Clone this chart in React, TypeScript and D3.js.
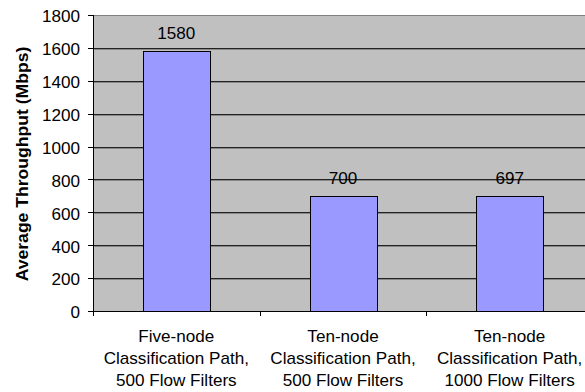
import React from "react";
import * as d3 from "d3";

const categories = [
  ["Five-node", "Classification Path,", "500 Flow Filters"],
  ["Ten-node", "Classification Path,", "500 Flow Filters"],
  ["Ten-node", "Classification Path,", "1000 Flow Filters"],
];
const values = [1580, 700, 697];
const yTicks = [0, 200, 400, 600, 800, 1000, 1200, 1400, 1600, 1800];
const yTitle = "Average Throughput (Mbps)";

const SX = 1.07;
const FS = 16;

function T({ x, y, anchor = "middle", children, bold = false, rotate = 0, sx = SX, size = FS }: any) {
  return (
    <text
      transform={`translate(${x},${y}) rotate(${rotate}) scale(${sx},1)`}
      textAnchor={anchor}
      fontSize={size}
      fontWeight={bold ? "bold" : "normal"}
      fill="#000"
    >
      {children}
    </text>
  );
}

export default function App() {
  const W = 585, H = 392;
  const left = 93, right = 593, top = 15, bottom = 311;
  const x = d3.scaleBand<number>().domain(d3.range(values.length)).range([left, right]).paddingInner(0).paddingOuter(0);
  const y = d3.scaleLinear().domain([0, 1800]).range([bottom, top]);
  const bw = x.bandwidth() * 0.4;
  const font = "'Liberation Sans', Arial, sans-serif";
  return (
    <svg width={W} height={H} style={{ position: "absolute", left: 0, top: 0, background: "#fff" }} fontFamily={font}>
      <rect x={left} y={top} width={right - left} height={bottom - top} fill="#C0C0C0" />
      <line x1={left} x2={right} y1={top + 0.5} y2={top + 0.5} stroke="#808080" />
      {yTicks.filter(t => t > 0 && t < 1800).map(t => (
        <g key={t}>
          <line x1={left} x2={right} y1={Math.round(y(t)) + 0.5} y2={Math.round(y(t)) + 0.5} stroke="#222" />
          <line x1={left} x2={right} y1={Math.round(y(t)) + 1.5} y2={Math.round(y(t)) + 1.5} stroke="#888" />
        </g>
      ))}
      {values.map((v, i) => {
        const cx = x(i)! + x.bandwidth() / 2;
        return (
          <g key={i}>
            <rect x={Math.round(cx - bw / 2) + 0.5} y={Math.round(y(v)) + 0.5} width={Math.round(bw)} height={Math.round(bottom - y(v))} fill="#9999FF" stroke="#000" />
            <T x={cx} y={y(v) - 12}>{v}</T>
          </g>
        );
      })}
      <line x1={left + 0.5} x2={left + 0.5} y1={top} y2={bottom + 5} stroke="#000" />
      <line x1={left} x2={right} y1={bottom + 0.5} y2={bottom + 0.5} stroke="#000" />
      {yTicks.map(t => (
        <g key={t}>
          <line x1={left - 5} x2={left} y1={Math.round(y(t)) + 0.5} y2={Math.round(y(t)) + 0.5} stroke="#000" />
          <T x={left - 13} y={y(t) + 7.3} anchor="end">{t}</T>
        </g>
      ))}
      {values.map((_, i) => i > 0 ? (
        <line key={i} x1={Math.round(x(i)!) + 0.5} x2={Math.round(x(i)!) + 0.5} y1={bottom} y2={bottom + 5} stroke="#000" />
      ) : null)}
      {categories.map((lines, i) => {
        const cx = x(i)! + x.bandwidth() / 2;
        return (
          <g key={i}>
            {lines.map((l, j) => (
              <T key={j} x={cx} y={342 + j * 22}>{l}</T>
            ))}
          </g>
        );
      })}
      <T x={27.5} y={(top + bottom) / 2 + 1} rotate={-90} bold sx={1.1}>{yTitle}</T>
    </svg>
  );
}
